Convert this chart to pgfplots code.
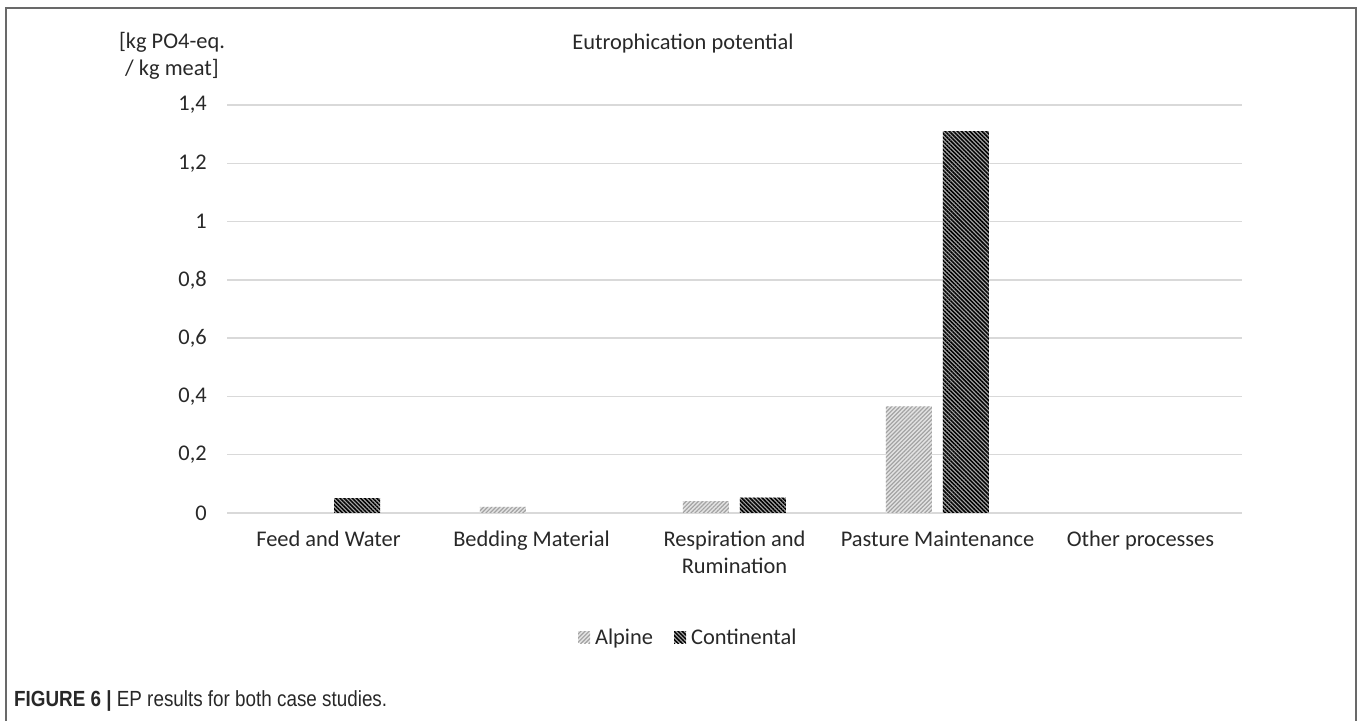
\documentclass[border=0pt]{standalone}
\usepackage{pgfplots}
\pgfplotsset{compat=1.18}
\usepackage{fontspec}
\setmainfont{Carlito}
\newfontfamily\capfont[FakeStretch=0.86]{Liberation Sans}
\usetikzlibrary{patterns.meta}
\definecolor{gridgray}{RGB}{217,217,217}
\definecolor{framegray}{RGB}{105,105,105}
\definecolor{txt}{RGB}{40,40,40}
\pgfplotstableread{
x alpine continental
0 nan   0.051
1 0.021 nan
2 0.041 0.053
3 0.366 1.31
4 nan   nan
}\epdata
\begin{document}
\begin{tikzpicture}[x=1bp,y=1bp]
\useasboundingbox (0,0) rectangle (1360,720);
\draw[framegray, line width=1.6bp] (6,-2) -- (6,712) -- (1356,712) -- (1356,-2);
\begin{axis}[
  at={(227bp,207bp)}, anchor=south west,
  scale only axis, width=1015bp, height=408bp,
  xmin=-0.5, xmax=4.5, ymin=0, ymax=1.4,
  ybar=11bp, bar width=46bp,
  axis line style={draw=none},
  major tick length=0pt,
  ymajorgrids, grid style={gridgray, line width=1.5bp},
  ytick={0,0.2,0.4,0.6,0.8,1,1.2,1.4},
  xtick={0,1,2,3,4},
  xticklabels={Feed and Water, Bedding Material, Respiration and\\Rumination, Pasture Maintenance, Other processes},
  tick label style={font=\fontsize{22.5}{27}\selectfont, text=txt},
  xticklabel style={align=center, anchor=north, inner sep=0pt, yshift=-18bp},
  yticklabel style={anchor=east, inner sep=0pt, xshift=-20bp,
    /pgf/number format/.cd, use comma, fixed, precision=1, assume math mode=true},
  legend style={at={(0.456,-0.304)}, anchor=center, draw=none, fill=none,
    font=\fontsize{22.5}{27}\selectfont, text=txt, legend columns=2,
    /tikz/every even column/.append style={column sep=16bp},
    nodes={inner xsep=5bp}},
  legend image code/.code={\path[#1] (0bp,-6bp) rectangle (12bp,6bp);},
]
\addplot[draw=none, fill=gray!22, postaction={pattern={Lines[angle=45, distance=2.9bp, line width=1.2bp]}, pattern color=gray!72}] table[x=x, y=alpine] {\epdata};
\addlegendentry{Alpine}
\addplot[draw=none, fill=gray!70, postaction={pattern={Lines[angle=-45, distance=2.9bp, line width=1.5bp]}, pattern color=black}] table[x=x, y=continental] {\epdata};
\addlegendentry{Continental}
\end{axis}
\node[font=\fontsize{22.5}{27}\selectfont, text=txt] at (683,676) {Eutrophication potential};
\node[font=\fontsize{22.5}{27}\selectfont, text=txt, align=center] at (172,664) {[kg PO4-eq.\\/ kg meat]};
\node[anchor=west, text=txt, font=\fontsize{22}{26}\selectfont, inner sep=0pt] at (14,19) {\capfont\bfseries FIGURE 6 |\mdseries\ EP results for both case studies.};
\end{tikzpicture}
\end{document}
